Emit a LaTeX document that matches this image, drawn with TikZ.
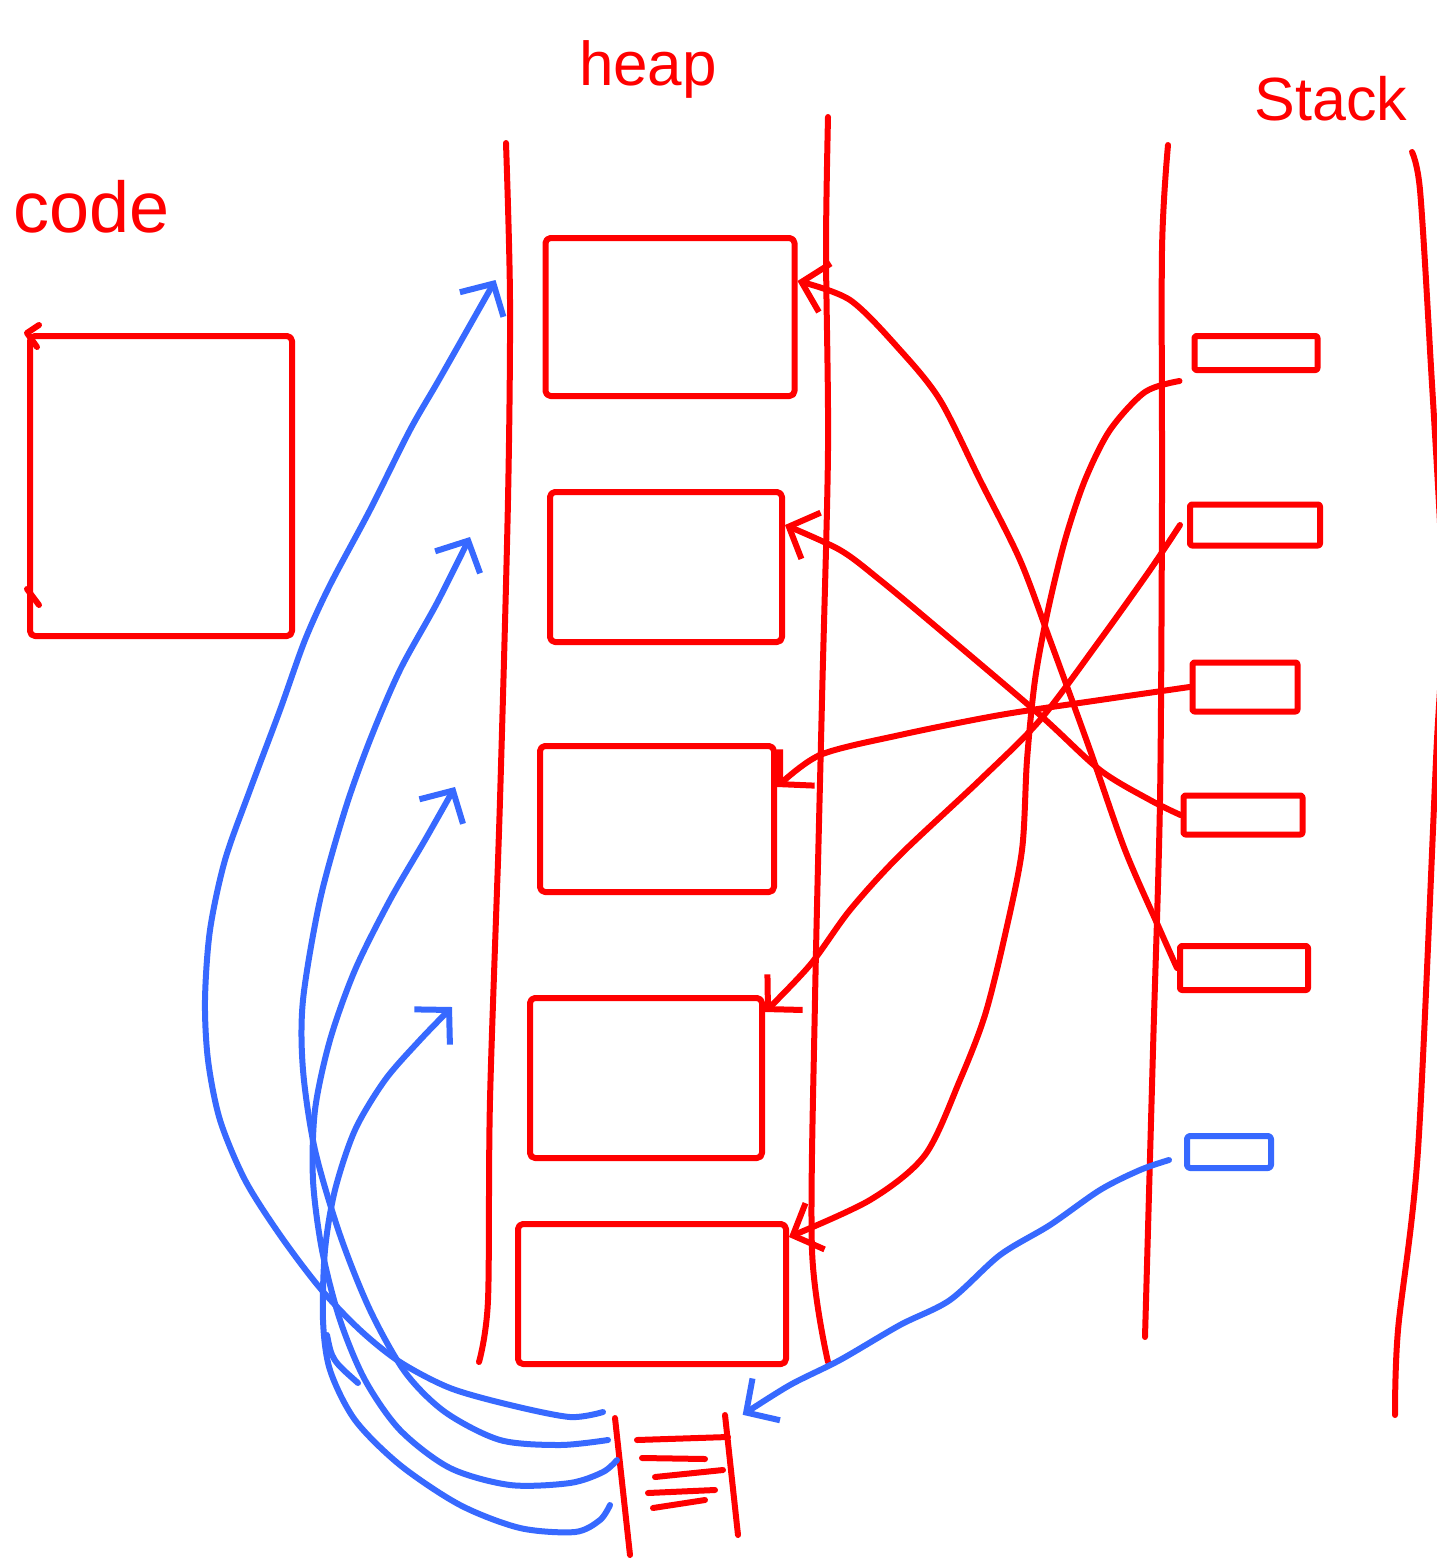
\documentclass[tikz,border=0pt]{standalone}
\usepackage{fontspec}
\setmainfont{Liberation Sans}
\usetikzlibrary{arrows.meta}
\definecolor{inkred}{RGB}{255,0,0}
\definecolor{inkblue}{RGB}{55,105,255}
\begin{document}
\begin{tikzpicture}[x=1pt,y=-1pt,
  ink/.style={line width=6pt, line cap=round, line join=round},
  redink/.style={ink, draw=inkred},
  blueink/.style={ink, draw=inkblue},
  box/.style={redink, rectangle, inner sep=0pt, rounded corners=5pt},
  bluebox/.style={blueink, rectangle, inner sep=0pt, rounded corners=3pt},
  lbl/.style={text=inkred, inner sep=0pt, anchor=base},
  tipped/.style={-{Straight Barb[length=24pt,width=50pt]}},
]
\useasboundingbox (0,0) rectangle (1437,1559);
\fill[white] (0,0) rectangle (1437,1559);
\clip (0,0) rectangle (1437,1559);

% labels
\node[lbl, font=\fontsize{72}{80}\selectfont] (lcode) at (92,232) {code};
\node[lbl, font=\fontsize{62}{70}\selectfont] (lheap) at (648,85) {heap};
\node[lbl, font=\fontsize{61}{70}\selectfont] (lstack) at (1331,120) {Stack};

% column lines
\draw[redink] plot[smooth] coordinates {(506,143) (510,300) (508,500) (500,800) (490,1100) (488,1300) (479,1362)};
\draw[redink] plot[smooth] coordinates {(828,117) (826,250) (828,450) (822,700) (815,1000) (812,1250) (828,1362)};
\draw[redink] plot[smooth] coordinates {(1168,145) (1162,250) (1162,500) (1160,800) (1153,1050) (1145,1337)};
\draw[redink] plot[smooth] coordinates {(1412,152) (1420,190) (1430,350) (1443,600) (1436,760) (1418,1150) (1398,1330) (1395,1415)};

% code box
\node[box, minimum width=262pt, minimum height=300pt] (code) at (161,486) {};
\draw[redink] (code.north west) ++(12,-8) -- (code.north west) -- ++(10,14);
\draw[redink] (code.south west) ++(0,-50) -- ++(12,16);

% heap boxes
\node[box, minimum width=249pt, minimum height=158pt] (h1) at (670,317) {};
\node[box, minimum width=232pt, minimum height=150pt] (h2) at (666,567) {};
\node[box, minimum width=234pt, minimum height=146pt] (h3) at (657,819) {};
\node[box, minimum width=232pt, minimum height=160pt] (h4) at (646,1078) {};
\node[box, minimum width=268pt, minimum height=140pt] (h5) at (652,1294) {};

% stack boxes
\node[box, rounded corners=2pt, minimum width=123pt, minimum height=34pt] (s1) at (1256,353) {};
\node[box, rounded corners=2pt, minimum width=130pt, minimum height=41pt] (s2) at (1255,525) {};
\node[box, rounded corners=2pt, minimum width=105pt, minimum height=49pt] (s3) at (1245,687) {};
\node[box, rounded corners=2pt, minimum width=119pt, minimum height=39pt] (s4) at (1243,815) {};
\node[box, rounded corners=2pt, minimum width=128pt, minimum height=44pt] (s5) at (1244,968) {};
\node[bluebox, minimum width=84pt, minimum height=32pt] (s6) at (1229,1152) {};

% roots ladder
\node[inner sep=0pt, minimum width=123pt, minimum height=140pt] (roots) at (676,1485) {};
\draw[redink] (615,1418) -- (630,1555);
\draw[redink] (725,1415) -- (738,1535);
\draw[redink] (637,1440) -- (728,1437);
\draw[redink] (642,1458) -- (705,1459);
\draw[redink] (655,1477) -- (723,1470);
\draw[redink] (648,1493) -- (715,1490);
\draw[redink] (653,1508) -- (705,1500);

% red connectors: stack -> heap
\draw[redink, tipped] plot[smooth] coordinates {([xshift=-12pt,yshift=-8pt]s1.south west) (1145,392) (1110,430) (1085,480) (1065,540) (1048,610) (1035,680) (1027,760) (1022,850) (1005,935) (985,1015) (960,1080) (925,1155) (870,1200) ([yshift=-16pt]h5.north east)};
\draw[redink, tipped] plot[smooth] coordinates {([xshift=-7pt]s2.west) (1150,570) (1100,640) (1040,720) (980,780) (900,855) (850,910) (810,965) ([yshift=-17pt]h4.north east)};
\draw[redink, tipped] plot[smooth] coordinates {(s3.west) (1100,700) (1000,715) (900,735) (820,755) ([yshift=-44pt]h3.north east)};
\draw[redink, tipped] plot[smooth] coordinates {(s4.west) (1150,800) (1100,770) (1040,715) (940,630) (880,580) (840,550) ([yshift=-36pt]h2.north east)};
\draw[redink, tipped] plot[smooth] coordinates {(s5.west) (1160,930) (1125,850) (1090,750) (1050,640) (1020,560) (980,480) (940,400) (900,350) (850,300) ([yshift=-46pt]h1.north east)};

% blue connectors: roots -> heap
\coordinate (r1) at (603,1412);
\coordinate (r2) at (608,1440);
\coordinate (r3) at (617,1460);
\coordinate (r4) at (610,1505);
\draw[blueink, tipped] plot[smooth] coordinates {(r1) (570,1417) (510,1405) (450,1388) (400,1362) (360,1330) (320,1288) (280,1235) (245,1180) (220,1120) (208,1060) (205,1000) (210,930) (225,860) (250,790) (280,710) (305,640) (330,585) (370,510) (410,430) (440,378) ([shift={(-47pt,-45pt)}]h1.north west)};
\draw[blueink, tipped] plot[smooth] coordinates {(r2) (560,1445) (500,1440) (445,1412) (405,1372) (370,1310) (340,1235) (315,1150) (303,1070) (303,1000) (320,900) (345,810) (370,740) (400,670) (437,603) ([shift={(-77pt,-48pt)}]h2.north west)};
\draw[blueink, tipped] plot[smooth] coordinates {(r3) (603,1472) (570,1483) (510,1485) (450,1468) (400,1430) (365,1380) (340,1320) (322,1250) (313,1180) (315,1110) (330,1040) (355,970) (390,900) (425,840) ([shift={(-82pt,-44pt)}]h3.north west)};
\draw[blueink, tipped] plot[smooth] coordinates {(r4) (600,1520) (575,1532) (520,1528) (460,1505) (400,1465) (355,1420) (330,1370) (323,1320) (325,1250) (335,1190) (355,1130) (385,1080) (420,1040) ([shift={(-75pt,-12pt)}]h4.north west)};
\draw[blueink] (327,1335) .. controls (332,1360) .. (358,1383);

% blue connector: stack -> roots
\draw[blueink, tipped] plot[smooth] coordinates {([xshift=-15pt,yshift=-8pt]s6.west) (1140,1170) (1100,1190) (1050,1225) (1000,1255) (950,1300) (900,1325) (840,1360) (790,1385) ([xshift=5pt]roots.north east)};
\end{tikzpicture}
\end{document}
